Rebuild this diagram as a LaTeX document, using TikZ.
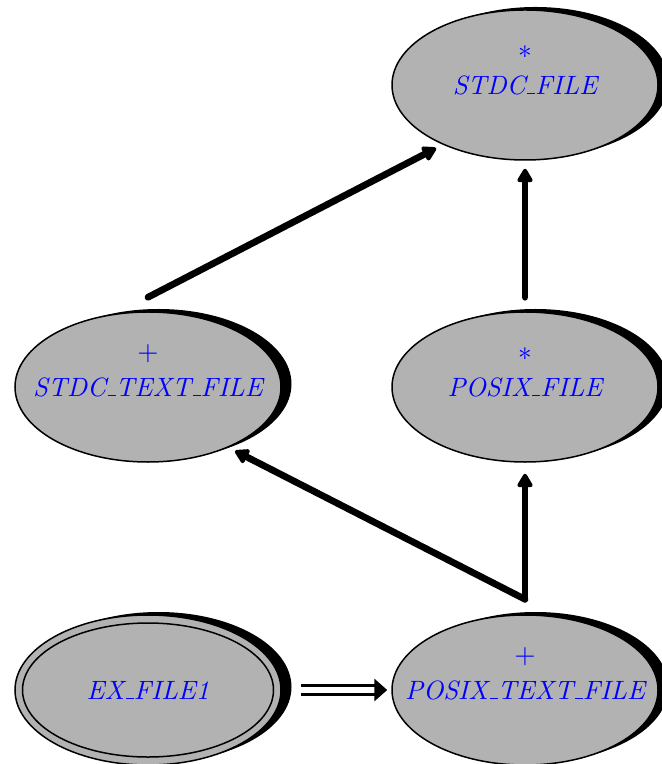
\documentclass[tikz,border=0pt]{standalone}
\usetikzlibrary{shapes.geometric,shadows,arrows.meta}

% short low rule used as the underscore in class names
\newcommand\usc{\leavevmode\kern.06em\vbox{\hrule width.3em}}

\tikzset{
  cls/.style={ellipse, draw=black, line width=0.6pt, fill=black!30,
    minimum width=106.4pt, minimum height=60pt, inner sep=0pt,
    font=\fontsize{10.6}{12}\selectfont\itshape, text=blue,
    general shadow={fill=black, shadow xshift=4.2pt, shadow yshift=1.2pt}},
  mark/.style={label={[text=blue, yshift=13.2pt,
    font=\fontsize{10.6}{12}\selectfont]center:#1}},
  inh/.style={line width=2.7pt, line cap=round, line join=round,
    -{Triangle[length=6.2pt, width=6.8pt, round]}},
  dbl/.style={double, double distance=2.3pt, line width=1.3pt,
    -{Triangle[length=5.2pt, width=8.8pt]}}
}
\newcommand\cname[1]{\makebox[0pt]{#1}}

\begin{document}
\begin{tikzpicture}[x=0.4pt, y=-0.4pt]
  \useasboundingbox (0,0) rectangle (661,764);

  % classes
  \node[cls, mark=$*$] (sf)  at (525,85)  {\cname{STDC\usc FILE}};
  \node[cls, mark=$+$] (stt) at (148,387) {\cname{STDC\usc TEXT\usc FILE}};
  \node[cls, mark=$*$] (pf)  at (525,387) {\cname{POSIX\usc FILE}};
  \node[cls] (ex)  at (148,690) {\cname{EX\usc FILE1}};
  \node[cls, mark=$+$] (ptf) at (525,690) {\cname{POSIX\usc TEXT\usc FILE}};
  \draw[line width=0.6pt] (ex.center) ellipse [x radius=125.5, y radius=67];

  % edge start points above the source nodes
  \coordinate (sttTop) at ([yshift=5.6pt]stt.north);
  \coordinate (pfTop)  at ([yshift=5.6pt]pf.north);
  \coordinate (ptfTop) at ([yshift=6pt]ptf.north);

  % inheritance edges
  \draw[inh, shorten >=3pt]   (sttTop) -- (sf.216);
  \draw[inh, shorten >=3.2pt] (pfTop)  -- (sf.south);
  \draw[inh, shorten >=4.4pt] (ptfTop) -- (pf.south);
  \draw[inh, shorten >=3pt]   (ptfTop) -- (stt.323.7);

  % double edge
  \draw[dbl, shorten <=7.6pt, shorten >=1.6pt] (ex.east) -- (ptf.west);
\end{tikzpicture}
\end{document}
